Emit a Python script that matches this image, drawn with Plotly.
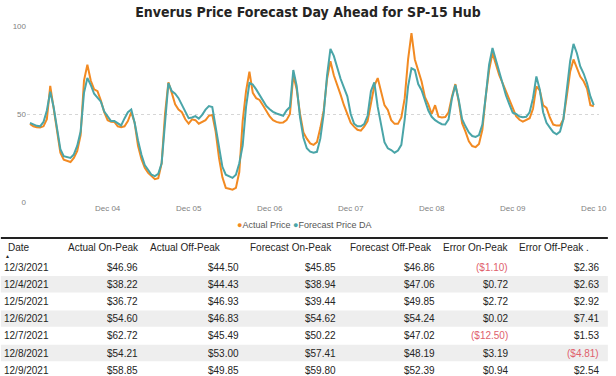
import pandas as pd
import plotly.graph_objects as go

# ---------------- data ----------------
start_hour = "2021-12-03 01:00"
actual_price = [
    44.4, 43, 42.5, 42.3, 43, 47, 66, 53, 40, 28, 24, 23.5, 22.7, 25, 29, 38, 69, 78, 69, 64, 63, 57.6, 51, 46.5,
    45.6, 45.5, 43, 42.5, 43, 46, 51, 45, 32, 24.5, 19.5, 16.5, 14.5, 13, 13.5, 22, 50, 68, 62, 55.5, 52.5, 51, 47, 44.5,
    47, 46.5, 44.5, 45.7, 46.5, 49, 49.5, 40, 25, 14, 8, 7.5, 7, 8, 17, 46, 63, 74, 62, 59, 58, 55, 51.5, 48.6,
    46.5, 45.5, 45, 45.2, 46.5, 50, 72, 64, 50, 39.5, 36, 33.3, 32.5, 34, 42, 52, 70, 80, 72, 67, 61, 55, 50, 45,
    42.8, 41, 40.5, 42.8, 46, 57, 66, 70.4, 62, 55, 52.3, 46.5, 44.4, 44.4, 48, 59, 81, 96, 81, 74.5, 68.5, 59.5, 55.5, 50,
    55, 48.5, 48, 48.3, 51, 60, 67, 57, 44.8, 40, 34.5, 31.8, 31.2, 33, 41, 60, 75, 84.5, 78, 72, 67.5, 62.5, 58.5, 53.5,
    48.7, 46.7, 45.7, 46.7, 47.6, 53, 65.7, 63.5, 55, 53.5, 48, 44, 43.4, 43.4, 47, 60, 74, 81, 76, 71.3, 68.6, 64.5, 55, 54.4,
]
forecast_price = [
    45, 44, 43.3, 43, 45.5, 52, 62.7, 54, 41.5, 30, 26, 25.3, 25, 27, 32, 40, 62, 70.5, 66.5, 61.5, 59, 57, 51.4, 48.3,
    46, 46, 44.5, 43.5, 47.5, 51, 52.5, 45, 35, 27, 21, 18, 15.5, 14.7, 16, 22, 45, 67.6, 63, 61.5, 59, 55, 51, 47.6,
    48, 48.8, 47.4, 49.5, 52.5, 54.5, 54, 43, 31, 20, 15.5, 14.4, 13.7, 15.5, 22, 32, 54, 67.6, 66.7, 64, 61, 58, 54.5, 52.7,
    51.2, 50.3, 49.8, 49, 52, 54, 75, 66, 48, 36.5, 30.5, 28.6, 28, 28.5, 36, 50, 72, 87, 83, 76, 70, 65, 60, 50,
    44.5, 43, 43, 44.3, 49, 63, 68, 54, 42.8, 34, 30.5, 29.5, 28, 29.2, 32.5, 47, 65.7, 76, 75, 67, 63.5, 57.5, 52, 48.4,
    46.5, 45.3, 44.2, 44, 47, 59, 66.5, 58, 47, 43, 39.5, 37.5, 37, 38, 44, 60, 78, 87.5, 81, 74, 67.5, 60.5, 55.5, 50.7,
    50, 48.6, 48.2, 48.4, 51, 59, 71.3, 64, 51, 45, 42.3, 39.7, 38.5, 40, 47, 63, 80, 89.8, 84.5, 77, 73, 67.5, 60, 55,
]

table_headers = ["Date", "Actual On-Peak", "Actual Off-Peak", "Forecast On-Peak",
                 "Forecast Off-Peak", "Error On-Peak", "Error Off-Peak ."]
dates = ["12/3/2021", "12/4/2021", "12/5/2021", "12/6/2021", "12/7/2021", "12/8/2021", "12/9/2021"]
actual_on = [46.96, 38.22, 36.72, 54.60, 62.72, 54.21, 58.85]
actual_off = [44.50, 44.43, 46.93, 46.83, 45.49, 53.00, 49.85]
forecast_on = [45.85, 38.94, 39.44, 54.62, 50.22, 57.41, 59.80]
forecast_off = [46.86, 47.06, 49.85, 54.24, 47.02, 48.19, 52.39]
error_on = [-1.10, 0.72, 2.72, 0.02, -12.50, 3.19, 0.94]
error_off = [2.36, 2.63, 2.92, 7.41, 1.53, -4.81, 2.54]

y_ticks = [0, 50, 100]

# ---------------- styling / layout ----------------
W, H = 616, 376
ML, MR, MT, MB = 26.5, 9, 26, 174
PW, PH = W - ML - MR, H - MT - MB
ORANGE = "#F28A22"
TEAL = "#4AA5A8"
NEG = "#E0606C"
TXT = "#252423"
TABLE_FONT = "Liberation Sans, Arial, sans-serif"


def px(xp):
    return (xp - ML) / PW


def py(yp):
    return (H - MB - yp) / PH


times = pd.date_range(start_hour, periods=len(actual_price), freq="h")

fig = go.Figure()
fig.add_trace(go.Scatter(x=times, y=actual_price, name="Actual Price", mode="lines",
                         line=dict(color=ORANGE, width=2), showlegend=False))
fig.add_trace(go.Scatter(x=times, y=forecast_price, name="Forecast Price DA", mode="lines",
                         line=dict(color=TEAL, width=2), showlegend=False))

x0 = times[0] - pd.Timedelta(minutes=53)
x1 = times[-1] + pd.Timedelta(minutes=93)

fig.update_layout(
    width=W, height=H,
    margin=dict(l=ML, r=MR, t=MT, b=MB),
    paper_bgcolor="white", plot_bgcolor="white",
    title=dict(text="<b>Enverus Price Forecast Day Ahead for SP-15 Hub</b>",
               x=0.5, xanchor="center", y=1 - 12 / H, yanchor="middle",
               font=dict(family="Liberation Sans Narrow, DejaVu Sans Condensed, sans-serif",
                         size=14, color=TXT)),
    xaxis=dict(range=[x0, x1], type="date", tick0="2021-12-04", dtick=86400000,
               tickformat="%b %d", showgrid=False, showline=False, zeroline=False,
               ticks="", tickfont=dict(family="Liberation Sans, Arial", size=8, color="#7f7f7f")),
    yaxis=dict(range=[0, 100], tickvals=y_ticks, showgrid=True, gridcolor="#d6d6d6",
               griddash="dot", gridwidth=1, zeroline=False, showline=False, ticks="",
               tickfont=dict(family="Liberation Sans, Arial", size=8, color="#7f7f7f")),
    showlegend=False,
)

annotations = []
shapes = []

# legend (as text with coloured bullets)
annotations.append(dict(
    xref="paper", yref="paper", x=px(308), y=py(225), xanchor="center", yanchor="middle",
    showarrow=False,
    text=(f'<span style="color:{ORANGE}">●</span>Actual Price '
          f'<span style="color:{TEAL}">●</span>Forecast Price DA'),
    font=dict(family=TABLE_FONT, size=9, color="#555555")))

# separator line above table
shapes.append(dict(type="line", xref="paper", yref="paper", x0=px(0), x1=px(W),
                   y0=py(238), y1=py(238), line=dict(color="#222222", width=2)))

# table
header_x = [5, 66, 149, 251, 352, 447, 524]
value_right_x = [51, 141, 244, 342, 443, 517, 609]
header_y = 247
row_y0 = 267
row_h = 17.2

for hx, htxt in zip(header_x, table_headers):
    annotations.append(dict(xref="paper", yref="paper", x=px(hx), y=py(header_y),
                            xanchor="left", yanchor="middle", showarrow=False, text=htxt,
                            font=dict(family=TABLE_FONT, size=10, color=TXT)))
annotations.append(dict(xref="paper", yref="paper", x=px(7), y=py(256),
                        xanchor="center", yanchor="middle", showarrow=False, text="▲",
                        font=dict(family=TABLE_FONT, size=5, color=TXT)))


def money(v):
    return f"(${abs(v):.2f})" if v < 0 else f"${v:.2f}"


columns = [actual_on, actual_off, forecast_on, forecast_off, error_on, error_off]
for i, d in enumerate(dates):
    yc = row_y0 + i * row_h
    if i % 2 == 1:
        shapes.append(dict(type="rect", xref="paper", yref="paper", layer="below",
                           x0=px(0), x1=px(W), y0=py(yc + 8.2), y1=py(yc - 8.2),
                           fillcolor="#eeeeee", line=dict(width=0)))
    annotations.append(dict(xref="paper", yref="paper", x=px(value_right_x[0]), y=py(yc),
                            xanchor="right", yanchor="middle", showarrow=False, text=d,
                            font=dict(family=TABLE_FONT, size=10, color=TXT)))
    for j, col in enumerate(columns):
        v = col[i]
        annotations.append(dict(xref="paper", yref="paper", x=px(value_right_x[j + 1]), y=py(yc),
                                xanchor="right", yanchor="middle", showarrow=False, text=money(v),
                                font=dict(family=TABLE_FONT, size=10,
                                          color=NEG if v < 0 else TXT)))

fig.update_layout(annotations=annotations, shapes=shapes)
fig.write_html("out.html", config={"displayModeBar": False},
               post_script="document.body.style.margin='0px';document.body.style.overflow='hidden';")
